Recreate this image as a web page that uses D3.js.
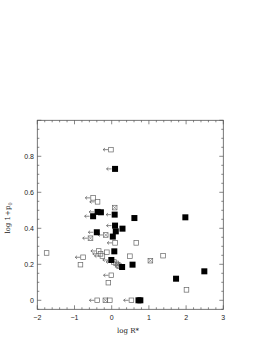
<!DOCTYPE html>
<html><head><meta charset="utf-8">
<script src="https://cdn.jsdelivr.net/npm/d3@7"></script>
<style>body{margin:0;background:#fff}svg{display:block}</style>
</head><body>
<script>
// Filled squares: [logR*, log(1+p0), upperLimit]
const filledX = [0.09,-0.50,-0.38,-0.29,0.08,0.61,1.98,0.09,0.29,0.11,-0.40,0.03,0.07,-0.01,0.28,0.56,1.73,2.49,0.72,0.77];
const filledY = [0.73,0.467,0.491,0.489,0.476,0.457,0.461,0.415,0.398,0.383,0.378,0.354,0.272,0.224,0.185,0.198,0.12,0.161,0,0];
const filledLim=[1,1,1,0,1,0,0,1,0,0,1,0,0,1,0,0,0,0,0,0];
// Open squares
const openX = [-0.02,-0.50,-0.38,0.09,0.66,-0.35,-0.13,-1.75,-0.30,-0.25,-0.77,-0.84,0.49,1.38,0.06,0.12,2.01,-0.01,-0.09,-0.39,-0.05,0.53];
const openY = [0.837,0.569,0.547,0.319,0.319,0.274,0.267,0.263,0.258,0.246,0.239,0.198,0.245,0.248,0.213,0.205,0.058,0.139,0.098,0,0,0];
const openLim=[1,1,1,1,0,1,0,0,1,1,1,0,0,0,1,0,0,1,0,1,0,1];
// Crossed squares
const crossX = [0.08,-0.16,-0.57,1.04,0.16,0.20,-0.17];
const crossY = [0.515,0.363,0.345,0.22,0.197,0.19,0];
const crossLim=[0,1,1,0,0,0,0];

const xTicks=[-2,-1,0,1,2,3], yTicks=[0,0.2,0.4,0.6,0.8];

const W=261,H=338, L=37.3,R=223.3,T=120.3,B=309.3;
const svg=d3.select("body").append("svg").attr("width",W).attr("height",H);
const x=d3.scaleLinear().domain([-2,3]).range([L,R]);
const y=d3.scaleLinear().domain([-0.05,1.0]).range([B,T]);
const ax="#555";

svg.append("rect").attr("x",L).attr("y",T).attr("width",R-L).attr("height",B-T)
  .attr("fill","none").attr("stroke",ax).attr("stroke-width",0.8);

const xMinor=d3.range(-2,3.001,0.2), yMinor=d3.range(-0.05,1.0001,0.05);
const tk=svg.append("g").attr("stroke",ax).attr("stroke-width",0.7);
xMinor.forEach(v=>{const maj=Math.abs(v-Math.round(v))<1e-6;const len=maj?4:2;
  tk.append("line").attr("x1",x(v)).attr("x2",x(v)).attr("y1",B).attr("y2",B-len);
  tk.append("line").attr("x1",x(v)).attr("x2",x(v)).attr("y1",T).attr("y2",T+len);});
yMinor.forEach(v=>{const maj=Math.abs(v*5-Math.round(v*5))<1e-6;const len=maj?4:2;
  tk.append("line").attr("y1",y(v)).attr("y2",y(v)).attr("x1",L).attr("x2",L+len);
  tk.append("line").attr("y1",y(v)).attr("y2",y(v)).attr("x1",R).attr("x2",R-len);});

const tf="'Liberation Sans',Arial,sans-serif";
svg.append("g").selectAll("text").data(xTicks).join("text")
  .attr("x",d=>x(d)).attr("y",320).attr("text-anchor","middle")
  .attr("font-family",tf).attr("font-size",7).attr("fill","#222")
  .text(d=>d<0?"\u2212"+(-d):d);
svg.append("g").selectAll("text").data(yTicks).join("text")
  .attr("x",34).attr("y",d=>y(d)+2.5).attr("text-anchor","end")
  .attr("font-family",tf).attr("font-size",7).attr("fill","#222")
  .text(d=>d===0?"0":d.toFixed(1));
svg.append("text").attr("x",128).attr("y",333).attr("text-anchor","middle")
  .attr("font-family","'DejaVu Serif',serif").attr("font-size",7).attr("fill","#222")
  .text("log  R*");
const yl=svg.append("text").attr("transform","translate(10,218) rotate(-90)")
  .attr("text-anchor","middle").attr("font-family","'DejaVu Serif',serif").attr("font-size",7).attr("fill","#222");
yl.append("tspan").text("log  1+p");
yl.append("tspan").attr("font-size",5).attr("dy",1.5).text("0");

function arrow(g,cx,cy,half){
  const x0=cx-half-0.5, x1=x0-5;
  g.append("path").attr("d",`M${x0},${cy}H${x1}M${x1+1.8},${cy-1.6}L${x1},${cy}L${x1+1.8},${cy+1.6}`)
   .attr("fill","none").attr("stroke","#555").attr("stroke-width",0.7);
}
const g=svg.append("g");
openX.forEach((v,i)=>{const cx=x(v),cy=y(openY[i]);
  g.append("rect").attr("x",cx-2.3).attr("y",cy-2.3).attr("width",4.6).attr("height",4.6)
   .attr("fill","none").attr("stroke","#666").attr("stroke-width",0.7);
  if(openLim[i])arrow(g,cx,cy,2.3);});
crossX.forEach((v,i)=>{const cx=x(v),cy=y(crossY[i]),h=2.3;
  g.append("rect").attr("x",cx-h).attr("y",cy-h).attr("width",2*h).attr("height",2*h)
   .attr("fill","none").attr("stroke","#666").attr("stroke-width",0.7);
  g.append("path").attr("d",`M${cx-h},${cy-h}L${cx+h},${cy+h}M${cx-h},${cy+h}L${cx+h},${cy-h}`)
   .attr("stroke","#666").attr("stroke-width",0.6);
  if(crossLim[i])arrow(g,cx,cy,h);});
filledX.forEach((v,i)=>{const cx=x(v),cy=y(filledY[i]);
  g.append("rect").attr("x",cx-3).attr("y",cy-3).attr("width",6).attr("height",6).attr("fill","#000");
  if(filledLim[i])arrow(g,cx,cy,3);});
</script>
</body></html>
